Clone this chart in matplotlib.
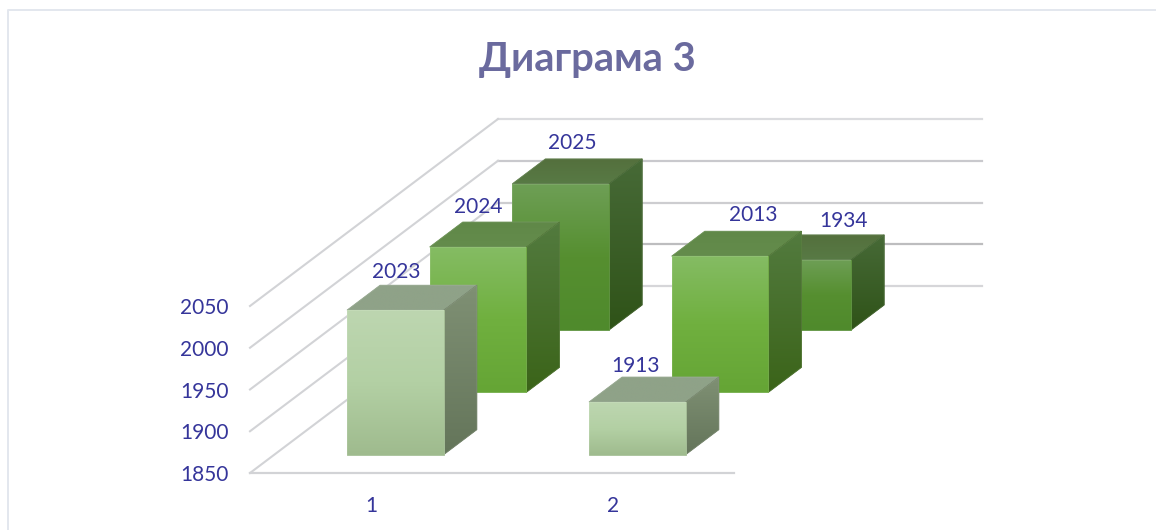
"""Excel style 3D column chart, drawn as an oblique projection on a plain axes."""
import numpy as np
from matplotlib import pyplot as plt
from matplotlib.colors import to_rgb
from matplotlib.lines import Line2D
from matplotlib.patches import Polygon

# chart values
categories = ['1', '2']
series_front = [2023, 1913]
series_middle = [2024, 2013]
series_back = [2025, 1934]
value_ticks = [1850, 1900, 1950, 2000, 2050]
title = 'Диаграма 3'

W, H = 1156, 530
FONT = ['Lato', 'Noto Sans', 'DejaVu Sans']
TEXT_COLOR = '#35359a'
GRID_COLOR = '#d2d3d6'
BACK_GRID_COLORS = ['#d6d6d9', '#bdbdbf', '#cdcdd0', '#c9c9cd', '#dbdcdf']

# axes box in pixels, the value axis runs from floor to top of the front wall
AX_LEFT, AX_RIGHT, AX_BOTTOM, AX_TOP = 250, 734, 473, 306
# how far the full depth of the chart shifts a point, in data units
PX_PER_CAT = (AX_RIGHT - AX_LEFT) / len(categories)
PX_PER_VAL = (AX_BOTTOM - AX_TOP) / (value_ticks[-1] - value_ticks[0])
DEPTH_X = 248 / PX_PER_CAT
DEPTH_Y = 187 / PX_PER_VAL

BAR_WIDTH = 0.40   # of a category
BAR_DEPTH = 0.40   # of a series slot
SLOT_GAP = 0.295   # space in front of the bar inside its slot

# gradient stops per series: front face, side face, top face
STYLES = [
    dict(front=['#bdd6b0', '#b3d0a4', '#9fbb8e'], side=['#7f9074', '#64755a'], top=['#8fa288', '#8fa288']),
    dict(front=['#85bc64', '#70b03f', '#65a535'], side=['#537b3f', '#3b6419'], top=['#608848', '#648c4c']),
    dict(front=['#6e9f56', '#568f30', '#4f8a2c'], side=['#476a37', '#2f5318'], top=['#54703d', '#587a45']),
]
# label shift from the top front left corner of each bar, in pixels
LABEL_SHIFT = [
    [(49, 38), (47, 36)],
    [(49, 40), (82, 41)],
    [(60, 41), (89, 39)],
]


def project(x, depth, value):
    """Oblique projection of (category position, depth 0..1, value) to data coordinates."""
    return x + depth * DEPTH_X, value + depth * DEPTH_Y


def gradient(stops):
    rgb = np.array([to_rgb(c) for c in stops])
    pos = np.linspace(0, 1, len(stops))
    rows = np.linspace(0, 1, 128)
    return np.stack([np.interp(rows, pos, rgb[:, i]) for i in range(3)], axis=1)[:, None, :]


def face(ax, corners, stops, zorder):
    """Fill a polygon with a vertical gradient."""
    xs, ys = zip(*corners)
    # solid underlay, closes the antialiasing seam between neighbouring faces
    ax.add_patch(Polygon(corners, closed=True, facecolor=stops[-1], edgecolor=stops[-1],
                         linewidth=0.6, clip_on=False, zorder=zorder - 0.1))
    im = ax.imshow(gradient(stops), extent=(min(xs), max(xs), min(ys), max(ys)),
                   origin='upper', aspect='auto', interpolation='bilinear', zorder=zorder)
    clip = Polygon(corners, closed=True, transform=ax.transData)
    im.set_clip_box(ax.figure.bbox)
    im.set_clip_path(clip)
    ax.add_patch(Polygon(corners, closed=True, fill=False, edgecolor=(1, 1, 1, 0.1),
                         linewidth=0.7, clip_on=False, zorder=zorder + 0.1))


def draw_bar(ax, cat, slot, value, style, zorder):
    floor = value_ticks[0]
    x0 = cat + (1 - BAR_WIDTH) / 2
    x1 = x0 + BAR_WIDTH
    d0 = (slot + SLOT_GAP) / 3
    d1 = d0 + BAR_DEPTH / 3
    face(ax, [project(x0, d0, value), project(x1, d0, value),
              project(x1, d1, value), project(x0, d1, value)], style['top'], zorder)
    face(ax, [project(x1, d0, floor), project(x1, d1, floor),
              project(x1, d1, value), project(x1, d0, value)], style['side'], zorder + 1)
    face(ax, [project(x0, d0, floor), project(x1, d0, floor),
              project(x1, d0, value), project(x0, d0, value)], style['front'], zorder + 2)
    return project(x0, d0, value)


fig = plt.figure(figsize=(W / 100, H / 100), dpi=100)
ax = fig.add_axes([AX_LEFT / W, 1 - AX_BOTTOM / H, (AX_RIGHT - AX_LEFT) / W, (AX_BOTTOM - AX_TOP) / H])
ax.set_xlim(0, len(categories))
ax.set_ylim(value_ticks[0], value_ticks[-1])
ax.patch.set_visible(False)
for spine in ax.spines.values():
    spine.set_visible(False)

ax.set_xticks([i + 0.5 for i in range(len(categories))], categories)
ax.set_yticks(value_ticks, [str(v) for v in value_ticks])
ax.tick_params(axis='both', length=0, labelsize=15, labelcolor=TEXT_COLOR, labelfontfamily=FONT)
ax.tick_params(axis='x', pad=16.5)
ax.tick_params(axis='y', pad=15.5)

# walls and floor
for v, back_color in zip(value_ticks, BACK_GRID_COLORS):
    a = project(0, 0, v)
    b = project(0, 1, v)
    c = project(len(categories), 1, v)
    ax.plot([b[0], c[0]], [b[1], c[1]], color=back_color, lw=1.6, clip_on=False, zorder=1)
    ax.plot([a[0], b[0]], [a[1], b[1]], color=GRID_COLOR, lw=1.5, clip_on=False, zorder=1)
a = project(0, 0, value_ticks[0])
b = project(len(categories), 0, value_ticks[0])
ax.plot([a[0], b[0]], [a[1], b[1]], color=GRID_COLOR, lw=1.6, clip_on=False, zorder=1)

# back series first so the nearer bars cover them
all_series = [series_front, series_middle, series_back]
z = 2
for slot in reversed(range(len(all_series))):
    for cat, value in enumerate(all_series[slot]):
        corner = draw_bar(ax, cat, slot, value, STYLES[slot], z)
        z += 3
        sx, sy = LABEL_SHIFT[slot][cat]
        ax.annotate(str(value), corner, xytext=(sx * 0.72, sy * 0.72), textcoords='offset points',
                    ha='center', va='center', fontsize=15, color=TEXT_COLOR, family=FONT,
                    annotation_clip=False, zorder=100)

fig.text(587 / W, 1 - 59 / H, title, ha='center', va='center', fontsize=28.7,
         fontweight='bold', color='#6a6a9e', family=FONT)

# card border, only top and left are inside the crop
fig.add_artist(Line2D([7.5 / W, 7.5 / W, 1], [0, 1 - 10 / H, 1 - 10 / H], color='#e3e7ee', lw=1.4))

fig.savefig('out.png', dpi=100)
